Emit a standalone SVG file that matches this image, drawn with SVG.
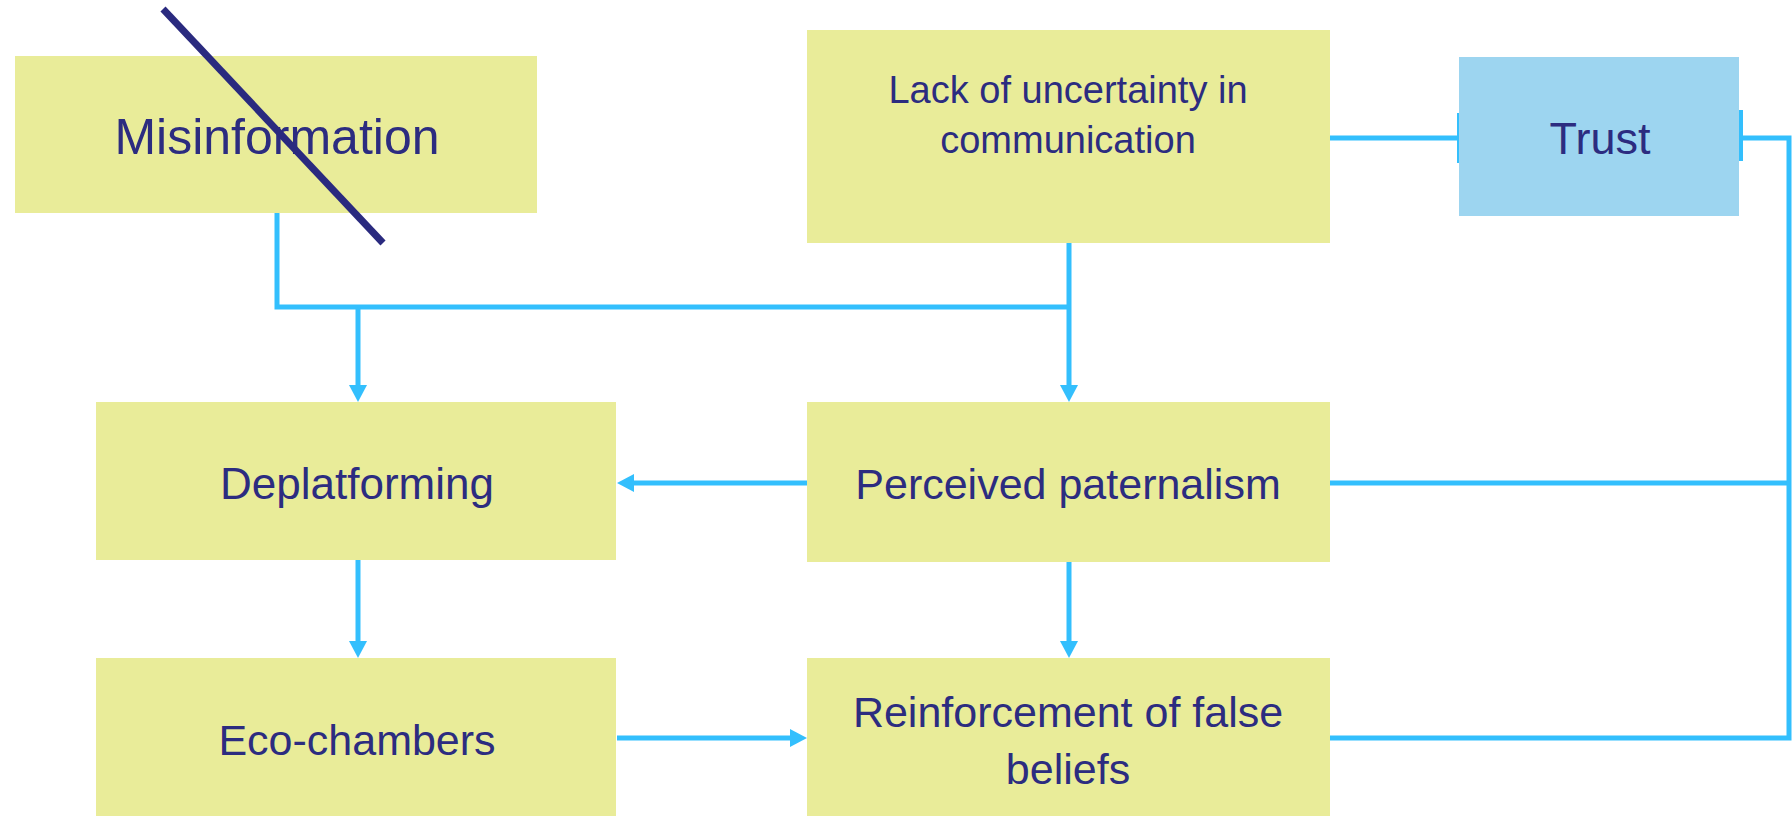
<svg xmlns="http://www.w3.org/2000/svg" width="1792" height="816" viewBox="0 0 1792 816">
<defs>
<style>
.box{fill:#E9EC99;}
.trust{fill:#9DD5F0;}
.lbl{font-family:"Liberation Sans",Arial,sans-serif;fill:#2C2C80;text-anchor:middle;}
.conn{fill:none;stroke:#33BFFD;stroke-width:5;}
.tee{stroke:#33BFFD;stroke-width:4;}
</style>
<marker id="arr" markerUnits="userSpaceOnUse" markerWidth="18" markerHeight="18" refX="3" refY="9" orient="auto">
<path d="M0,0 L17,9 L0,18 z" fill="#33BFFD"/>
</marker>
</defs>
<rect width="1792" height="816" fill="#ffffff"/>
<g id="connectors">
<path class="conn" d="M277,213 V307 H1069"/>
<path class="conn" d="M358,307 V388" marker-end="url(#arr)"/>
<path class="conn" d="M1069,243 V388" marker-end="url(#arr)"/>
<path class="conn" d="M807,483 H631" marker-end="url(#arr)"/>
<path class="conn" d="M358,560 V644" marker-end="url(#arr)"/>
<path class="conn" d="M1069,562 V644" marker-end="url(#arr)"/>
<path class="conn" d="M617,738 H793" marker-end="url(#arr)"/>
<path class="conn" d="M1330,138 H1459"/>
<line class="tee" x1="1459" y1="113" x2="1459" y2="163"/>
<path class="conn" d="M1330,483 H1789"/>
<path class="conn" d="M1330,738 H1789 V138 H1741"/>
<line class="tee" x1="1741" y1="110" x2="1741" y2="161"/>
</g>
<g id="misinformation">
<rect class="box" x="15" y="56" width="522" height="157"/>
<text class="lbl" x="277" y="154" font-size="50">Misinformation</text>
<line x1="163" y1="9" x2="383" y2="243" stroke="#2A2A7F" stroke-width="7"/>
</g>
<g id="lack">
<rect class="box" x="807" y="30" width="523" height="213"/>
<text class="lbl" x="1068" y="103" font-size="38">Lack of uncertainty in</text>
<text class="lbl" x="1068" y="153" font-size="38">communication</text>
</g>
<g id="trust">
<rect class="trust" x="1459" y="57" width="280" height="159"/>
<text class="lbl" x="1600" y="154" font-size="45">Trust</text>
</g>
<g id="deplatforming">
<rect class="box" x="96" y="402" width="520" height="158"/>
<text class="lbl" x="357" y="499" font-size="44">Deplatforming</text>
</g>
<g id="perceived">
<rect class="box" x="807" y="402" width="523" height="160"/>
<text class="lbl" x="1068" y="499" font-size="43">Perceived paternalism</text>
</g>
<g id="eco">
<rect class="box" x="96" y="658" width="520" height="158"/>
<text class="lbl" x="357" y="755" font-size="43">Eco-chambers</text>
</g>
<g id="reinforcement">
<rect class="box" x="807" y="658" width="523" height="158"/>
<text class="lbl" x="1068" y="727" font-size="43">Reinforcement of false</text>
<text class="lbl" x="1068" y="784" font-size="43">beliefs</text>
</g>
</svg>
